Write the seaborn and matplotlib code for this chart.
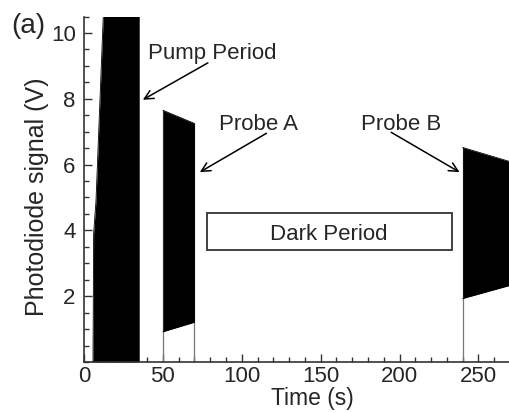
import numpy as np
import pandas as pd
import matplotlib
matplotlib.use("Agg")
import matplotlib.pyplot as plt
from matplotlib.patches import Rectangle
from matplotlib.ticker import MultipleLocator
import seaborn as sns

# ---- data ----
pump_t = [5.7, 6.1, 7.6, 12.2, 35.0]
pump_hi = [0.0, 3.9, 4.9, 10.5, 10.5]
pump_lo = [0.0, 0.0, 0.0, 0.0, 0.0]

probeA_t = [50.0, 70.0]
probeA_hi = [7.65, 7.25]
probeA_lo = [0.92, 1.21]

probeB_t = [240.0, 270.0]
probeB_hi = [6.52, 6.09]
probeB_lo = [1.93, 2.33]

x_ticks = [0, 50, 100, 150, 200, 250]
y_ticks = [2, 4, 6, 8, 10]

sns.set_style("ticks")
plt.rcParams['font.family'] = ['Liberation Sans', 'DejaVu Sans']

fig = plt.figure(figsize=(5.10, 4.13), dpi=100)
ax = fig.add_axes([84/510, 1-362/413, 426/510, (362-16.5)/413])

segments = [
    (pump_t, pump_lo, pump_hi),
    (probeA_t, probeA_lo, probeA_hi),
    (probeB_t, probeB_lo, probeB_hi),
]
for t, lo, hi in segments:
    df = pd.DataFrame({"t": t, "lo": lo, "hi": hi})
    ax.fill_between(df["t"], df["lo"], df["hi"], color="black", lw=0, zorder=2)
    sns.lineplot(data=df, x="t", y="hi", color="black", lw=0.6, ax=ax, zorder=3)
    sns.lineplot(data=df, x="t", y="lo", color="black", lw=0.6, ax=ax, zorder=3)

# thin gray edges of probe windows
for t, hi in [(probeA_t[0], probeA_hi[0]), (probeA_t[-1], probeA_hi[-1]), (probeB_t[0], probeB_hi[0])]:
    ax.vlines(t, 0, hi, color="#777777", lw=0.9, zorder=1)

ax.set_xlim(0, 270)
ax.set_ylim(0, 10.5)
ax.set_xticks(x_ticks)
ax.set_yticks(y_ticks)
ax.xaxis.set_minor_locator(MultipleLocator(10))
ax.yaxis.set_minor_locator(MultipleLocator(0.5))
ax.tick_params(which="both", direction="in", color="#333333", width=1.0)
ax.tick_params(which="major", length=6, labelsize=16)
ax.tick_params(axis="x", which="major", pad=3)
ax.tick_params(axis="y", which="major", pad=6)
ax.tick_params(which="minor", length=3.5)
for s in ["top", "right"]:
    ax.spines[s].set_visible(False)
for s in ["left", "bottom"]:
    ax.spines[s].set_color("#333333")
    ax.spines[s].set_linewidth(1.2)

ax.set_xlabel("Time (s)", fontsize=16.5)
ax.set_ylabel("Photodiode signal (V)", fontsize=18)
ax.xaxis.set_label_coords(0.537, -0.073)
ax.yaxis.set_label_coords(-0.082, 0.478)

# annotations
tfs = 16
ax.text(81.2, 9.2, "Pump Period", fontsize=tfs, ha="center", va="baseline")
ax.text(110.8, 7.05, "Probe A", fontsize=tfs, ha="center", va="baseline")
ax.text(201.3, 7.05, "Probe B", fontsize=tfs, ha="center", va="baseline")
ax.text(155.3, 3.72, "Dark Period", fontsize=tfs, ha="center", va="baseline")

arrow_kw = dict(arrowstyle="->", color="black", lw=1.1, mutation_scale=16,
                shrinkA=0, shrinkB=0)
ax.annotate("", xy=(37.3, 7.97), xytext=(78.5, 9.09), arrowprops=arrow_kw)
ax.annotate("", xy=(73.4, 5.77), xytext=(115.6, 6.95), arrowprops=arrow_kw)
ax.annotate("", xy=(238.0, 5.77), xytext=(194.7, 6.98), arrowprops=arrow_kw)

ax.add_patch(Rectangle((78, 3.41), 233-78, 4.52-3.41, fill=False,
                       edgecolor="#333333", lw=1.3, zorder=4))

fig.text(11/510, 1-33/413, "(a)", fontsize=20, ha="left", va="baseline")

fig.savefig("out.png", dpi=100)
